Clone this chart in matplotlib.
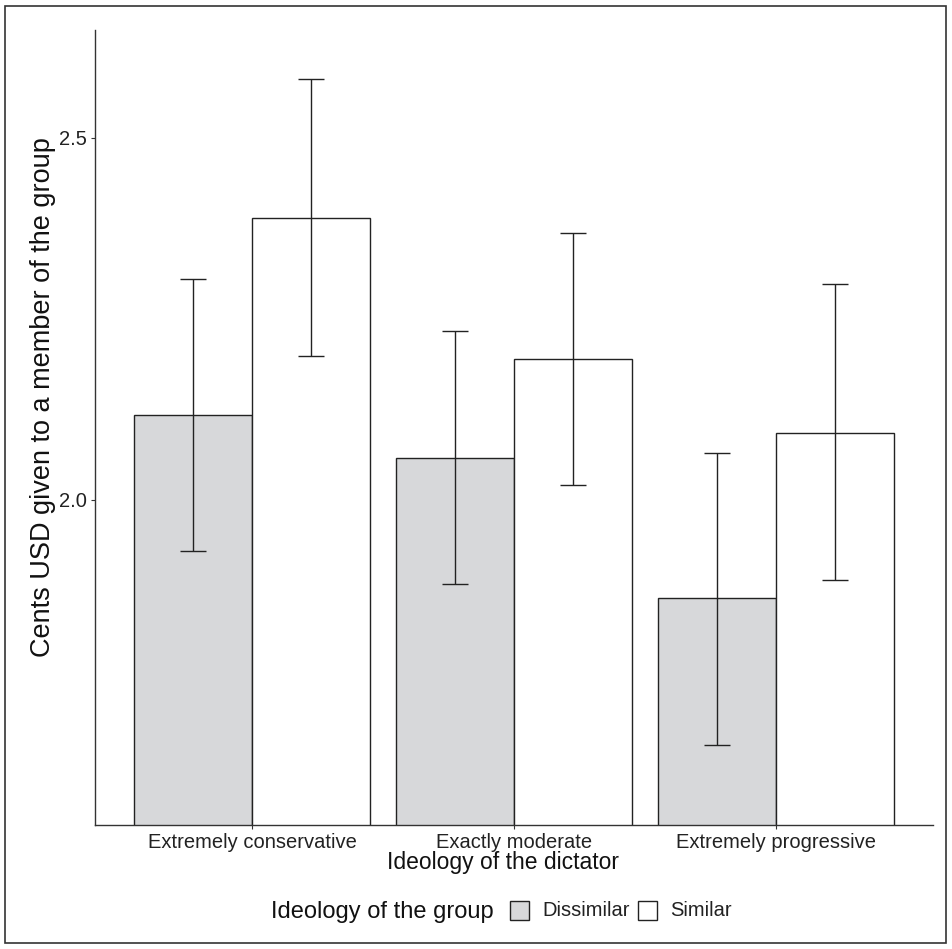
import numpy as np
import matplotlib
matplotlib.use("Agg")
import matplotlib.pyplot as plt
from matplotlib.patches import Rectangle

plt.rcParams['font.family'] = ['Liberation Sans', 'DejaVu Sans']

# data
categories = ["Extremely conservative", "Exactly moderate", "Extremely progressive"]
groups = ["Dissimilar", "Similar"]
dissimilar_mean = [2.117, 2.058, 1.865]
dissimilar_low = [1.930, 1.884, 1.662]
dissimilar_high = [2.305, 2.233, 2.065]
similar_mean = [2.389, 2.195, 2.093]
similar_low = [2.199, 2.021, 1.890]
similar_high = [2.581, 2.369, 2.298]
y_ticks = [2.0, 2.5]

fill_colors = {"Dissimilar": "#d7d8da", "Similar": "#ffffff"}
edge = "#222222"

W, H = 952, 949
fig = plt.figure(figsize=(W / 100, H / 100), dpi=100)
ax = fig.add_axes([95 / W, 1 - 825 / H, 838 / W, 795 / H])

def px(x, y):
	# pixel position (from top-left) -> figure fraction
	return x / W, 1 - y / H

x = np.arange(1, len(categories) + 1)
w = 0.45
series = [
	(dissimilar_mean, dissimilar_low, dissimilar_high, -w / 2, "Dissimilar"),
	(similar_mean, similar_low, similar_high, w / 2, "Similar"),
]
for mean, low, high, off, name in series:
	mean = np.array(mean)
	ax.bar(x + off, mean - 1.0, bottom=1.0, width=w, color=fill_colors[name],
		edgecolor=edge, linewidth=1.0, label=name, zorder=2)
	yerr = [mean - np.array(low), np.array(high) - mean]
	ax.errorbar(x + off, mean, yerr=yerr, fmt='none', ecolor=edge,
		elinewidth=1.0, capsize=9.4, capthick=1.0, zorder=3)

ax.set_xlim(0.4, 3.6)
ax.set_ylim(1.551, 2.649)
ax.set_xticks(x)
ax.set_xticklabels(categories, fontsize=14.5, color="#222222")
ax.set_yticks(y_ticks)
ax.set_yticklabels([f"{v:.1f}" for v in y_ticks], fontsize=14.5, color="#222222")
ax.tick_params(axis='both', length=3, width=0.8, color="#333333", pad=3)

for s in ["top", "right"]:
	ax.spines[s].set_visible(False)
for s in ["left", "bottom"]:
	ax.spines[s].set_color("#333333")
	ax.spines[s].set_linewidth(1.0)

# axis titles
fig.text(*px(387, 862), "Ideology of the dictator", fontsize=16.5, color="#111111",
	ha="left", va="center")
fig.text(*px(43, 397), "Cents USD given to a member of the group", fontsize=19.5,
	color="#111111", ha="center", va="center", rotation=90)

# legend at the bottom, title to the left of the keys
fig.text(*px(271, 912), "Ideology of the group", fontsize=17, color="#111111",
	ha="left", va="center")
key_x = [510, 638]
text_x = [542, 670]
for g, kx, tx in zip(groups, key_x, text_x):
	x0, y0 = px(kx, 920)
	fig.patches.append(Rectangle((x0, y0), 19 / W, 19 / H, transform=fig.transFigure,
		facecolor=fill_colors[g], edgecolor=edge, linewidth=1.0))
	fig.text(*px(tx, 911), g, fontsize=14.5, color="#222222", ha="left", va="center")

# border around whole figure
fig.patches.append(Rectangle(px(5, 943), 941 / W, 937 / H, transform=fig.transFigure,
	fill=False, edgecolor="#333333", linewidth=1.2))

fig.savefig("out.png", dpi=100)
